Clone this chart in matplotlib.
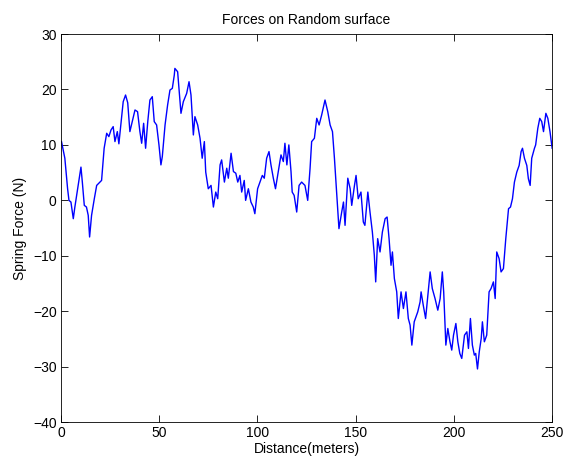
#!/usr/bin/env python
import matplotlib
matplotlib.use("Agg")
import matplotlib.pyplot as plt

# values (distance in m, force in N)
distance = [
    0.3, 2.0, 3.4, 4.1, 5.1, 6.3, 7.1, 8.0, 9.2, 10.2, 10.9, 11.9, 13.0, 13.9,
    14.6, 15.6, 17.0, 18.2, 19.9, 20.7, 22.0, 23.3, 24.4, 25.5, 26.6, 27.5,
    28.7, 29.5, 30.5, 31.7, 32.9, 34.0, 35.1, 36.3, 37.7, 39.0, 40.2, 41.1,
    42.1, 43.1, 44.2, 45.3, 46.5, 47.5, 48.7, 49.9, 50.9, 51.6, 53.0, 54.3,
    55.5, 56.7, 57.7,
    58.0, 59.4, 61.1, 62.3, 64.0, 65.2, 66.2, 67.4, 68.2, 69.6, 70.8, 71.9,
    73.0, 73.7, 75.0, 76.4, 77.6, 78.8, 79.8, 81.0, 81.8, 83.2, 84.4, 85.2,
    86.6, 87.8, 89.0, 90.0, 91.1, 92.0, 93.3, 94.0, 95.4, 96.7, 97.9, 98.7,
    100.1, 101.3, 102.5, 103.5, 104.7, 105.9, 106.9, 108.1, 109.2, 110.6,
    112.0, 113.2, 114.0, 115.0, 116.0, 117.1, 117.7, 118.7,
    120.0, 121.2, 122.5, 124.2, 125.6, 126.8, 127.6, 129.0, 130.2, 131.4,
    132.7, 134.4, 135.8, 137.0, 138.2, 139.2, 140.4, 141.5, 142.9, 143.8,
    144.6, 146.0, 147.2, 148.0, 149.4, 150.2, 151.3, 152.7, 153.9, 154.7,
    156.2, 157.3, 158.5, 159.5, 160.2, 161.2, 162.4, 163.6, 165.0, 166.0,
    167.0, 168.0, 168.7, 169.7, 170.9, 171.7, 173.1, 174.3, 175.6, 176.8,
    177.7, 178.6, 179.8,
    181.6, 182.8, 183.3, 184.4, 185.6, 186.6, 187.9, 189.0, 190.4, 191.8,
    193.0, 194.1, 194.8, 195.9, 196.9, 198.0, 198.9, 199.8, 201.0, 202.0,
    203.0, 204.0, 205.4, 206.6, 207.4, 208.4, 209.4, 210.4, 211.1, 212.0,
    212.9, 213.9, 214.5, 215.5, 216.7, 217.9, 218.9, 220.1, 221.0, 221.8,
    223.0, 224.0, 225.2, 226.4, 227.8, 228.8, 229.8, 230.8, 232.0, 233.2,
    234.2, 234.9, 235.9, 237.1, 237.9, 238.8, 239.6, 241.0, 241.6, 242.7,
    243.7, 244.7, 245.6, 246.8, 247.8, 248.9, 250.0,
]
force = [
    10.6, 7.6, 2.1, 0.0, -0.3, -3.3, -1.2, 0.9, 3.6, 6.0, 3.3, -0.9, -1.2, -2.7,
    -6.6, -2.7, 0.3, 2.7, 3.3, 3.6, 9.4, 12.1, 11.5, 12.7, 13.3, 10.6,
    12.4, 10.2, 13.6, 17.8, 19.0, 17.6, 12.4, 14.2, 16.3, 16.0, 12.4, 10.3,
    13.9, 9.4, 14.2, 18.1, 18.7, 14.2, 13.6, 10.0, 6.4, 7.9, 13.6, 17.2,
    19.9, 20.2, 22.6,
    23.8, 23.2, 15.7, 17.8, 19.3, 21.4, 19.0, 11.8, 15.1, 13.6, 11.2, 7.6,
    10.6, 5.1, 2.1, 2.7, -1.2, 1.5, 0.3, 6.4, 7.3, 3.3, 5.8, 4.0,
    8.5, 5.2, 4.9, 3.3, 4.5, 1.5, 3.6, 0.0, 2.1, -0.3, -1.2, -2.4,
    2.1, 3.3, 4.5, 4.0, 7.6, 8.8, 6.4, 4.0, 2.1, 5.2,
    8.2, 7.0, 10.3, 6.4, 10.0, 5.2, 1.5, 0.9,
    -2.1, 2.7, 3.3, 2.7, 0.0, 5.8, 10.6, 11.2, 14.8, 13.6,
    15.4, 18.1, 16.0, 13.6, 12.4, 7.6, 1.0, -5.1, -2.1, -0.3,
    -4.5, 4.0, 2.1, -0.9, 2.7, 4.5, 0.3, 1.5, -3.9, -4.5,
    1.5, -2.1, -5.7, -9.9, -14.7, -6.9, -9.3, -5.7, -3.3, -3.0,
    -6.9, -11.7, -9.3, -14.1, -16.5, -21.3, -16.5, -19.5, -16.5, -21.3,
    -22.5, -26.1, -21.9,
    -20.1, -18.3, -16.5, -18.9, -21.3, -17.7, -12.9, -15.9, -17.7, -19.8,
    -17.7, -12.9, -16.5, -26.1, -23.1, -25.5, -27.0, -24.3, -22.2, -25.5,
    -27.6, -28.5, -24.3, -23.7, -26.7, -21.3, -26.1, -27.9, -27.6, -30.4,
    -27.3, -24.9, -21.9, -25.5, -24.3, -16.5, -15.9, -14.7, -17.7, -9.3,
    -10.5, -12.9, -12.3, -6.9, -1.5, -1.2, 0.3, 3.3, 5.1, 6.3,
    8.8, 9.4, 7.6, 6.3, 3.9, 2.7, 7.6, 9.4, 10.0, 13.0,
    14.8, 14.2, 12.4, 15.7, 14.8, 12.4, 9.4,
]

x_ticks = [0, 50, 100, 150, 200, 250]
y_ticks = [-40, -30, -20, -10, 0, 10, 20, 30]


def main():
    plt.rcParams["font.family"] = ["Liberation Sans", "DejaVu Sans"]
    plt.rcParams["font.size"] = 10

    fig = plt.figure(figsize=(5.64, 4.66), dpi=100)
    ax = fig.add_axes([0.108, 0.094, 0.871, 0.833])

    ax.plot(distance, force, color="#0000ff", linewidth=1.0)

    ax.set_xlim(0, 250)
    ax.set_ylim(-40, 30)
    ax.set_xticks(x_ticks)
    ax.set_yticks(y_ticks)
    ax.tick_params(direction="in", top=True, right=True, length=5,
                   width=0.6, pad=3, labelsize=10)
    for spine in ax.spines.values():
        spine.set_linewidth(0.6)

    ax.set_title("Forces on Random surface", fontsize=10, pad=7)
    ax.set_xlabel("Distance(meters)", labelpad=1)
    ax.set_ylabel("Spring Force (N)", labelpad=4)

    fig.savefig("out.png", dpi=100)


if __name__ == "__main__":
    main()
